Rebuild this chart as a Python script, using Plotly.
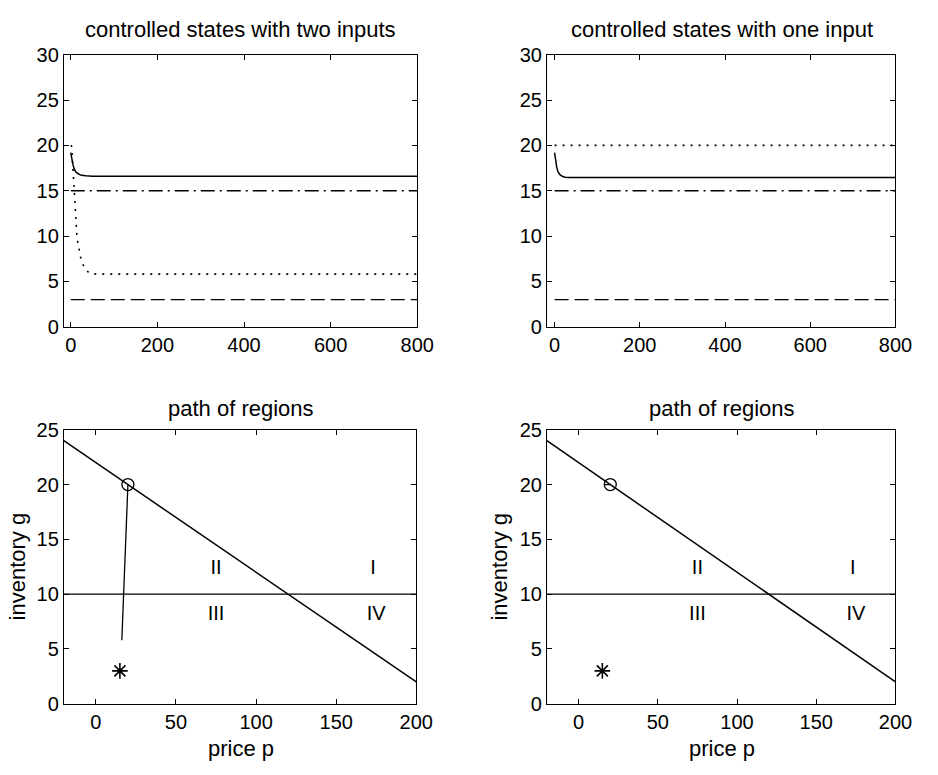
import plotly.graph_objects as go

# ---- data ----
# top-left: controlled states with two inputs
tl_solid_t = [0, 2, 5, 8, 12, 18, 25, 35, 50, 800]
tl_solid_v = [19.2, 18.6, 17.9, 17.4, 17.05, 16.85, 16.7, 16.65, 16.6, 16.6]
tl_dot_t = [0, 2, 4, 6, 8, 10, 12, 14, 16, 19, 23, 29, 35, 41, 50, 60, 800]
tl_dot_v = [20.0, 19.9, 18.3, 16.4, 14.6, 12.9, 11.3, 10.2, 9.4, 8.5, 7.6, 6.8, 6.3, 6.0, 5.85, 5.8, 5.8]
tl_dashdot_t = [0, 800]
tl_dashdot_v = [15, 15]
tl_dash_t = [0, 800]
tl_dash_v = [3, 3]

# top-right: controlled states with one input
tr_solid_t = [0, 2, 5, 8, 12, 18, 25, 35, 50, 800]
tr_solid_v = [19.2, 18.4, 17.6, 17.1, 16.8, 16.6, 16.5, 16.45, 16.45, 16.45]
tr_dot_t = [0, 800]
tr_dot_v = [20, 20]
tr_dashdot_t = [0, 800]
tr_dashdot_v = [15, 15]
tr_dash_t = [0, 800]
tr_dash_v = [3, 3]

# bottom: path of regions
boundary_p = [-20, 200]
boundary_g = [24, 2]
level_p = [-20, 200]
level_g = [10, 10]
path_left_p = [20, 16.2]
path_left_g = [20, 5.8]
path_right_p = [20, 16.5]
path_right_g = [20, 20]
start_p = [20]
start_g = [20]
target_p = [15]
target_g = [3]
region_labels = ["I", "II", "III", "IV"]
region_p = [173, 75, 75, 175]
region_g = [12.3, 12.3, 8.1, 8.1]

FONT = "Liberation Sans, Arial, sans-serif"
fig = go.Figure()

def line(x, y, dash, xa, ya, w=1.3):
    fig.add_trace(go.Scatter(x=x, y=y, mode="lines", xaxis=xa, yaxis=ya,
                             line=dict(color="black", width=w, dash=dash),
                             showlegend=False, hoverinfo="skip"))

DOT = "2px,6px"
DASHDOT = "14px,5px,2px,5px"
DASH = "14px,6px"

# top-left
line(tl_solid_t, tl_solid_v, "solid", "x", "y", 1.5)
line(tl_dot_t, tl_dot_v, DOT, "x", "y", 1.6)
line(tl_dashdot_t, tl_dashdot_v, DASHDOT, "x", "y")
line(tl_dash_t, tl_dash_v, DASH, "x", "y")
# top-right
line(tr_solid_t, tr_solid_v, "solid", "x2", "y2", 1.5)
line(tr_dot_t, tr_dot_v, DOT, "x2", "y2", 1.6)
line(tr_dashdot_t, tr_dashdot_v, DASHDOT, "x2", "y2")
line(tr_dash_t, tr_dash_v, DASH, "x2", "y2")

for xa, ya, pp, pg in [("x3", "y3", path_left_p, path_left_g), ("x4", "y4", path_right_p, path_right_g)]:
    line(boundary_p, boundary_g, "solid", xa, ya, 1.5)
    line(level_p, level_g, "solid", xa, ya, 1.3)
    line(pp, pg, "solid", xa, ya, 1.3)
    fig.add_trace(go.Scatter(x=start_p, y=start_g, mode="markers", xaxis=xa, yaxis=ya,
                             marker=dict(symbol="circle-open", size=12, color="black",
                                         line=dict(width=1.3, color="black")),
                             showlegend=False, hoverinfo="skip"))
    fig.add_trace(go.Scatter(x=target_p, y=target_g, mode="markers", xaxis=xa, yaxis=ya,
                             marker=dict(symbol="asterisk-open", size=13, color="black",
                                         line=dict(width=1.6, color="black")),
                             showlegend=False, hoverinfo="skip"))
    fig.add_trace(go.Scatter(x=region_p, y=region_g, mode="text", text=region_labels,
                             xaxis=xa, yaxis=ya, textfont=dict(size=20, family=FONT, color="black"),
                             showlegend=False, hoverinfo="skip"))

W, H = 938, 775
def dom_x(a, b):
    return [a / W, b / W]
def dom_y(top, bottom):
    return [(H - bottom) / H, (H - top) / H]

ax_common = dict(showline=True, linecolor="black", linewidth=1, mirror="ticks",
                 ticks="inside", ticklen=5, tickcolor="black", showgrid=False,
                 zeroline=False, tickfont=dict(size=20, family=FONT, color="black"))

fig.update_layout(
    width=W, height=H, margin=dict(l=0, r=0, t=0, b=0),
    paper_bgcolor="white", plot_bgcolor="white",
    xaxis=dict(domain=dom_x(65, 425), anchor="y", range=[-16, 800], tickvals=[0, 200, 400, 600, 800], **ax_common),
    yaxis=dict(domain=dom_y(45, 325), anchor="x", range=[0, 30], tickvals=[0, 5, 10, 15, 20, 25, 30], **ax_common),
    xaxis2=dict(domain=dom_x(557, 912), anchor="y2", range=[-18, 800], tickvals=[0, 200, 400, 600, 800], **ax_common),
    yaxis2=dict(domain=dom_y(45, 325), anchor="x2", range=[0, 30], tickvals=[0, 5, 10, 15, 20, 25, 30], **ax_common),
    xaxis3=dict(domain=dom_x(65, 424), anchor="y3", range=[-20, 200], tickvals=[0, 50, 100, 150, 200], **ax_common),
    yaxis3=dict(domain=dom_y(431, 713), anchor="x3", range=[0, 25], tickvals=[0, 5, 10, 15, 20, 25], **ax_common),
    xaxis4=dict(domain=dom_x(557, 912), anchor="y4", range=[-20, 200], tickvals=[0, 50, 100, 150, 200], **ax_common),
    yaxis4=dict(domain=dom_y(431, 713), anchor="x4", range=[0, 25], tickvals=[0, 5, 10, 15, 20, 25], **ax_common),
)

ann_font = dict(size=22, family=FONT, color="black")
annotations = [
    dict(text="controlled states with two inputs", x=245 / W, y=1 - 19 / H),
    dict(text="controlled states with one input", x=735 / W, y=1 - 19 / H),
    dict(text="path of regions", x=245 / W, y=1 - 409 / H),
    dict(text="path of regions", x=735 / W, y=1 - 409 / H),
    dict(text="price p", x=245 / W, y=1 - 759 / H),
    dict(text="price p", x=735 / W, y=1 - 759 / H),
    dict(text="inventory g", x=18 / W, y=1 - 572 / H, textangle=-90),
    dict(text="inventory g", x=509 / W, y=1 - 572 / H, textangle=-90),
]
for a in annotations:
    fig.add_annotation(xref="paper", yref="paper", showarrow=False, font=ann_font,
                       xanchor="center", yanchor="middle", **a)

fig.write_html("out.html")
